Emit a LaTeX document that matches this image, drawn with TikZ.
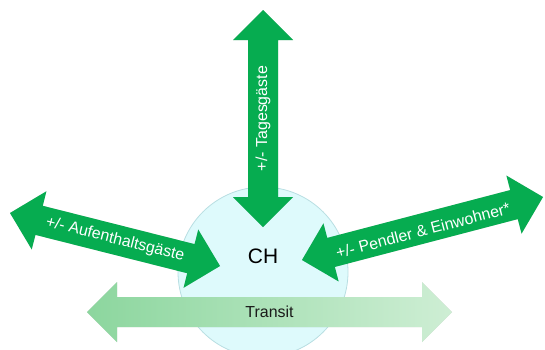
\documentclass[tikz,border=0pt]{standalone}
\usepackage{fontspec}
\setmainfont{Liberation Sans}
\usetikzlibrary{calc}
\definecolor{flowgreen}{RGB}{6,172,80}
\definecolor{transitL}{RGB}{140,214,158}
\definecolor{transitR}{RGB}{206,238,212}
\definecolor{cantonfill}{RGB}{222,250,252}
\definecolor{cantonedge}{RGB}{184,222,226}
\definecolor{inktext}{RGB}{26,26,26}
\tikzset{
  x=1bp, y=-1bp,
  % two-headed block arrow between two tip coordinates
  twoway/.style 2 args={insert path={
    (#1)
    -- ($(#1)!30bp!(#2)!30bp!90:(#2)$)
    -- ($(#1)!30bp!(#2)!15bp!90:(#2)$)
    -- ($(#2)!30bp!(#1)!15bp!-90:(#1)$)
    -- ($(#2)!30bp!(#1)!30bp!-90:(#1)$)
    -- (#2)
    -- ($(#2)!30bp!(#1)!30bp!90:(#1)$)
    -- ($(#2)!30bp!(#1)!15bp!90:(#1)$)
    -- ($(#1)!30bp!(#2)!15bp!-90:(#2)$)
    -- ($(#1)!30bp!(#2)!30bp!-90:(#2)$)
    -- cycle}},
  arrowshade/.style={fill=black, opacity=0.18, shift={(1.5,1.8)}},
  greenflow/.style={fill=flowgreen},
  transitflow/.style={left color=transitL, right color=transitR},
  flowlabel/.style={text=white, font=\fontsize{16}{19}\selectfont, inner sep=0pt},
  transitlabel/.style={text=inktext, font=\fontsize{16}{19}\selectfont, inner sep=0pt},
  cantonlabel/.style={text=black, font=\fontsize{21}{25}\selectfont, inner sep=0pt},
}
\begin{document}
\begin{tikzpicture}
\useasboundingbox (0,0) rectangle (545,349);
\clip (0,0) rectangle (545,349);

% canton disc
\node[circle, minimum size=170bp, inner sep=0pt, fill=cantonfill, draw=cantonedge, line width=0.8bp] (canton) at (263,272) {};
\node[cantonlabel] (ch) at (263,256) {CH};

% arrow tips
\coordinate (dayTop) at (263,10);
\coordinate (dayBot) at (263,227);
\coordinate (stayL) at (10,213);
\coordinate (stayR) at (220,266);
\coordinate (commL) at (302,260);
\coordinate (commR) at (543,197);
\coordinate (transL) at (87,312);
\coordinate (transR) at (452,312);

% day visitors
\path[arrowshade, twoway={dayTop}{dayBot}];
\path[greenflow, twoway={dayTop}{dayBot}];
\path (dayBot) -- (dayTop) node[midway, sloped, flowlabel] (tday) {+/- Tagesgäste};

% overnight guests
\path[arrowshade, twoway={stayL}{stayR}];
\path[greenflow, twoway={stayL}{stayR}];
\path (stayL) -- (stayR) node[midway, sloped, flowlabel] (tstay) {+/- Aufenthaltsgäste};

% commuters and residents
\path[arrowshade, twoway={commL}{commR}];
\path[greenflow, twoway={commL}{commR}];
\path (commL) -- (commR) node[midway, sloped, flowlabel, yshift=-2bp] (tcomm) {+/- Pendler \& Einwohner*};

% transit
\path[arrowshade, twoway={transL}{transR}];
\path[transitflow, twoway={transL}{transR}];
\node[transitlabel] (ttrans) at ($(transL)!0.5!(transR)$) {Transit};
\end{tikzpicture}
\end{document}
